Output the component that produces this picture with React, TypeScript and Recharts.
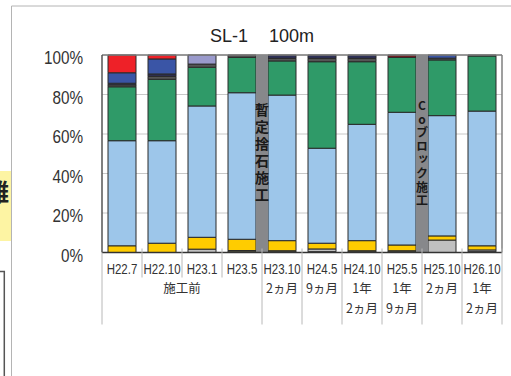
import React from 'react';
import { BarChart, Bar, XAxis, YAxis, CartesianGrid, ReferenceLine } from 'recharts';

const categories = ['H22.7', 'H22.10', 'H23.1', 'H23.5', 'H23.10', 'H24.5', 'H24.10', 'H25.5', 'H25.10', 'H26.10'];
const periodLabels = ['施工前', '施工前', '施工前', '施工前', '2ヵ月', '9ヵ月', '1年\n2ヵ月', '1年\n9ヵ月', '2ヵ月', '1年\n2ヵ月'];

const darkOlive = [0, 0, 0, 1.0, 0.9, 0.4, 0.9, 0.9, 0, 0.4];
const lightGray = [0, 0, 1.7, 0, 0, 1.4, 0, 0, 6.3, 0.9];
const yellow = [3.4, 4.7, 6.0, 5.7, 5.1, 2.9, 5.1, 2.9, 2.1, 2.1];
const lightBlue = [53.2, 51.9, 66.5, 74.2, 73.7, 48.1, 58.9, 67.2, 60.9, 68.2];
const green = [27.3, 31.1, 19.6, 17.9, 17.3, 43.8, 31.7, 27.8, 28.2, 27.9];
const darkGray = [1.0, 1.5, 1.6, 1.2, 1.3, 1.7, 1.7, 0, 0.9, 0.5];
const navy = [0.8, 1.2, 0, 0, 1.7, 1.7, 1.7, 0, 0, 0];
const blue = [5.3, 7.6, 0, 0, 0, 0, 0, 0, 1.6, 0];
const lavender = [0, 0, 4.6, 0, 0, 0, 0, 0, 0, 0];
const maroon = [0, 0, 0, 0, 0, 0, 0, 1.2, 0, 0];
const red = [9.0, 2.0, 0, 0, 0, 0, 0, 0, 0, 0];

const yTicks = [0, 0.2, 0.4, 0.6, 0.8, 1];
const markerA = { at: 'H23.10', text: '暫定捨石施工' };
const markerB = { at: 'H25.10', text: 'Coブロック施工' };

const seriesList = [
  { key: 'darkOlive', values: darkOlive, color: '#4a4a3a' },
  { key: 'lightGray', values: lightGray, color: '#c0c0c0' },
  { key: 'yellow', values: yellow, color: '#ffcc00' },
  { key: 'lightBlue', values: lightBlue, color: '#9dc6ea' },
  { key: 'green', values: green, color: '#2f9a68' },
  { key: 'darkGray', values: darkGray, color: '#555555' },
  { key: 'navy', values: navy, color: '#2e3057' },
  { key: 'blue', values: blue, color: '#3a55a6' },
  { key: 'lavender', values: lavender, color: '#9a9acc' },
  { key: 'maroon', values: maroon, color: '#7a1f24' },
  { key: 'red', values: red, color: '#ee2128' },
];

const data = categories.map((c, i) => {
  const row: any = { name: c };
  seriesList.forEach((s) => {
    row[s.key] = s.values[i];
  });
  return row;
});

const XTick = (props: any) => {
  const { x, y, payload, width, visibleTicksCount } = props;
  const i: number = props.index ?? payload.index;
  const half: number = payload.offset ?? width / visibleTicksCount / 2;
  const left = x - half;
  const right = x + half;
  const n = periodLabels.length;
  const merged = i < n - 1 && periodLabels[i + 1] === periodLabels[i];
  const els: any[] = [];
  els.push(
    <text key="r1" transform={`translate(${x},${y + 21.5}) scale(0.82,1)`} textAnchor="middle" fontSize={14}
      fontFamily="Liberation Sans, Arial, sans-serif" fill="#333">{payload.value}</text>
  );
  if (i === 0) {
    els.push(<line key="l0" x1={left} x2={left} y1={y} y2={y + 72} stroke="#b8b8b8" strokeWidth={1} />);
  }
  els.push(<line key="lr" x1={right} x2={right} y1={y - 4} y2={merged ? y + 25 : y + 72} stroke="#b8b8b8" strokeWidth={1} />);
  if (i === 0 || periodLabels[i - 1] !== periodLabels[i]) {
    let span = 1;
    while (i + span < n && periodLabels[i + span] === periodLabels[i]) span++;
    const cx = left + span * half;
    periodLabels[i].split('\n').forEach((ln, k) => {
      els.push(
        <text key={'g' + k} x={cx} y={y + 40 + k * 20.5} textAnchor="middle" fontSize={12.5}
          fontFamily="Noto Sans CJK JP, sans-serif" fill="#333">{ln}</text>
      );
    });
  }
  return <g>{els}</g>;
};

const YTick = (props: any) => {
  const { x, y, payload } = props;
  return (
    <text transform={`translate(${x},${y + 3}) scale(0.85,1)`} textAnchor="end" dy="0.36em" fontSize={18}
      fontFamily="Liberation Sans, Arial, sans-serif" fill="#333">{Math.round(payload.value * 100)}%</text>
  );
};

const VLabel = (props: any) => {
  const { viewBox, text, size, gap } = props;
  const vb = viewBox || {};
  const cx = (vb.x ?? 0) + (vb.width ?? 0) / 2;
  const cy = (vb.y ?? 0) + (vb.height ?? 0) / 2;
  return (
    <text x={cx} y={cy} textAnchor="middle" dominantBaseline="central" fontSize={size} fontWeight="bold"
      letterSpacing={gap} fontFamily="Noto Sans CJK JP, sans-serif" fill="#1a1a1a"
      style={{ writingMode: 'vertical-rl', textOrientation: 'upright' } as any}>{text}</text>
  );
};

export default function App() {
  return (
    <div style={{ position: 'absolute', left: 0, top: 0, width: 511, height: 376, background: '#fff', overflow: 'hidden' }}>
      <svg width={511} height={376} style={{ position: 'absolute', left: 0, top: 0 }}>
        <line x1={11.5} x2={511} y1={6} y2={6} stroke="#b4b4b4" strokeWidth={1} />
        <line x1={11.5} x2={11.5} y1={6} y2={376} stroke="#b4b4b4" strokeWidth={1} />
        <rect x={0} y={171} width={11} height={70} fill="#fdf4a3" />
        <text x={9} y={190} textAnchor="end" dominantBaseline="central" fontSize={24} fontWeight="bold"
          fontFamily="Noto Sans CJK JP, sans-serif" fill="#222">難</text>
        <polyline points="0,271.5 4.3,271.5 4.3,376" fill="none" stroke="#555" strokeWidth={1.5} />
        <text x={210} y={41.7} fontSize={18} fontFamily="Liberation Sans, Arial, sans-serif" fill="#222">SL-1</text>
        <text x={269} y={41.7} fontSize={18} fontFamily="Liberation Sans, Arial, sans-serif" fill="#222">100m</text>
      </svg>
      <div style={{ position: 'absolute', left: 0, top: 0 }}>
        <BarChart width={511} height={376} data={data} stackOffset="expand" barCategoryGap="15%"
          margin={{ top: 55, right: 9, left: 0, bottom: 43.5 }}>
          <CartesianGrid horizontal vertical={false} stroke="#c8c8c8" />
          <XAxis dataKey="name" height={80} interval={0} tickLine={false} tickSize={0} tickMargin={0}
            axisLine={{ stroke: '#333', strokeWidth: 1.5 }} tick={<XTick />} />
          <YAxis width={102} domain={[0, 1]} ticks={yTicks} tickLine={false} tickSize={0} tickMargin={19}
            axisLine={{ stroke: '#555', strokeWidth: 1.5 }} tick={<YTick />} />
          {seriesList.map((s) => (
            <Bar key={s.key} dataKey={s.key} stackId="a" fill={s.color} stroke="#2a2a2a" strokeWidth={1}
              isAnimationActive={false} />
          ))}
          <ReferenceLine y={1} stroke="#7f7f7f" strokeWidth={1.5} />
          <ReferenceLine x={categories[categories.length - 1]} position="end" stroke="#7f7f7f" strokeWidth={1.5} />
          <ReferenceLine x={markerA.at} position="start" stroke="#87888b" strokeWidth={12}
            label={<VLabel text={markerA.text} size={14} gap={3} />} />
          <ReferenceLine x={markerB.at} position="start" stroke="#87888b" strokeWidth={12}
            label={<VLabel text={markerB.text} size={12} gap={1.6} />} />
        </BarChart>
      </div>
    </div>
  );
}
